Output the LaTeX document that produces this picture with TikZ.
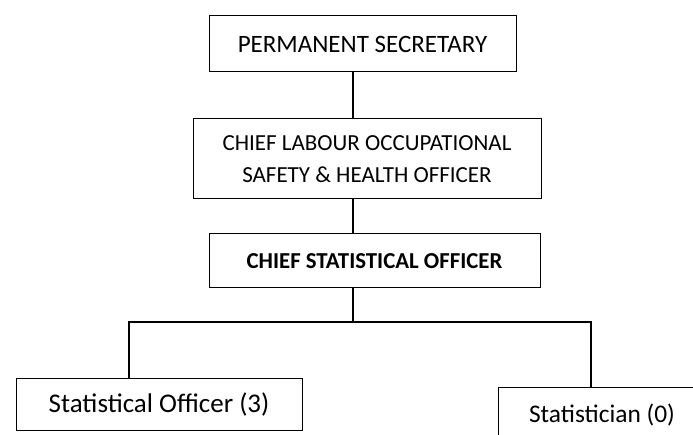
\documentclass[tikz,border=0pt]{standalone}
\usepackage{fontspec}
\setmainfont{Carlito}
\begin{document}
\begin{tikzpicture}[x=1pt,y=-1pt,
  box/.style={draw=black, line width=1pt, fill=white, inner sep=0pt, align=center},
  conn/.style={draw=black, line width=1.3pt}]
\useasboundingbox (0,0) rectangle (693,435);
\clip (0,0) rectangle (693,435);
\node[box, minimum width=307pt, minimum height=56pt, font=\fontsize{25}{29}\selectfont] (ps) at (362.5,44) {PERMANENT SECRETARY};
\node[box, minimum width=348pt, minimum height=80pt, font=\fontsize{23}{32}\selectfont] (cl) at (367,159) {CHIEF LABOUR OCCUPATIONAL\\SAFETY \& HEALTH OFFICER};
\node[box, minimum width=331pt, minimum height=54pt, font=\fontsize{22.8}{26}\selectfont\bfseries] (cso) at (374.5,261) {CHIEF STATISTICAL OFFICER};
\node[box, minimum width=286pt, minimum height=52pt, font=\fontsize{27}{31}\selectfont] (so) at (159,404) {Statistical Officer (3)};
\node[box, minimum width=208pt, minimum height=56pt, font=\fontsize{25.4}{30}\selectfont] (st) at (602,415) {Statistician (0)};
\coordinate (vx) at (353,0);
\coordinate (busl) at (129,322);
\coordinate (busr) at (591,322);
\draw[conn] (ps.south -| vx) -- (cl.north -| vx);
\draw[conn] (cl.south -| vx) -- (cso.north -| vx);
\draw[conn] (cso.south -| vx) -- (busl -| vx);
\draw[conn] (so.north -| busl) -- (busl) -- (busr) -- (st.north -| busr);
\end{tikzpicture}
\end{document}
